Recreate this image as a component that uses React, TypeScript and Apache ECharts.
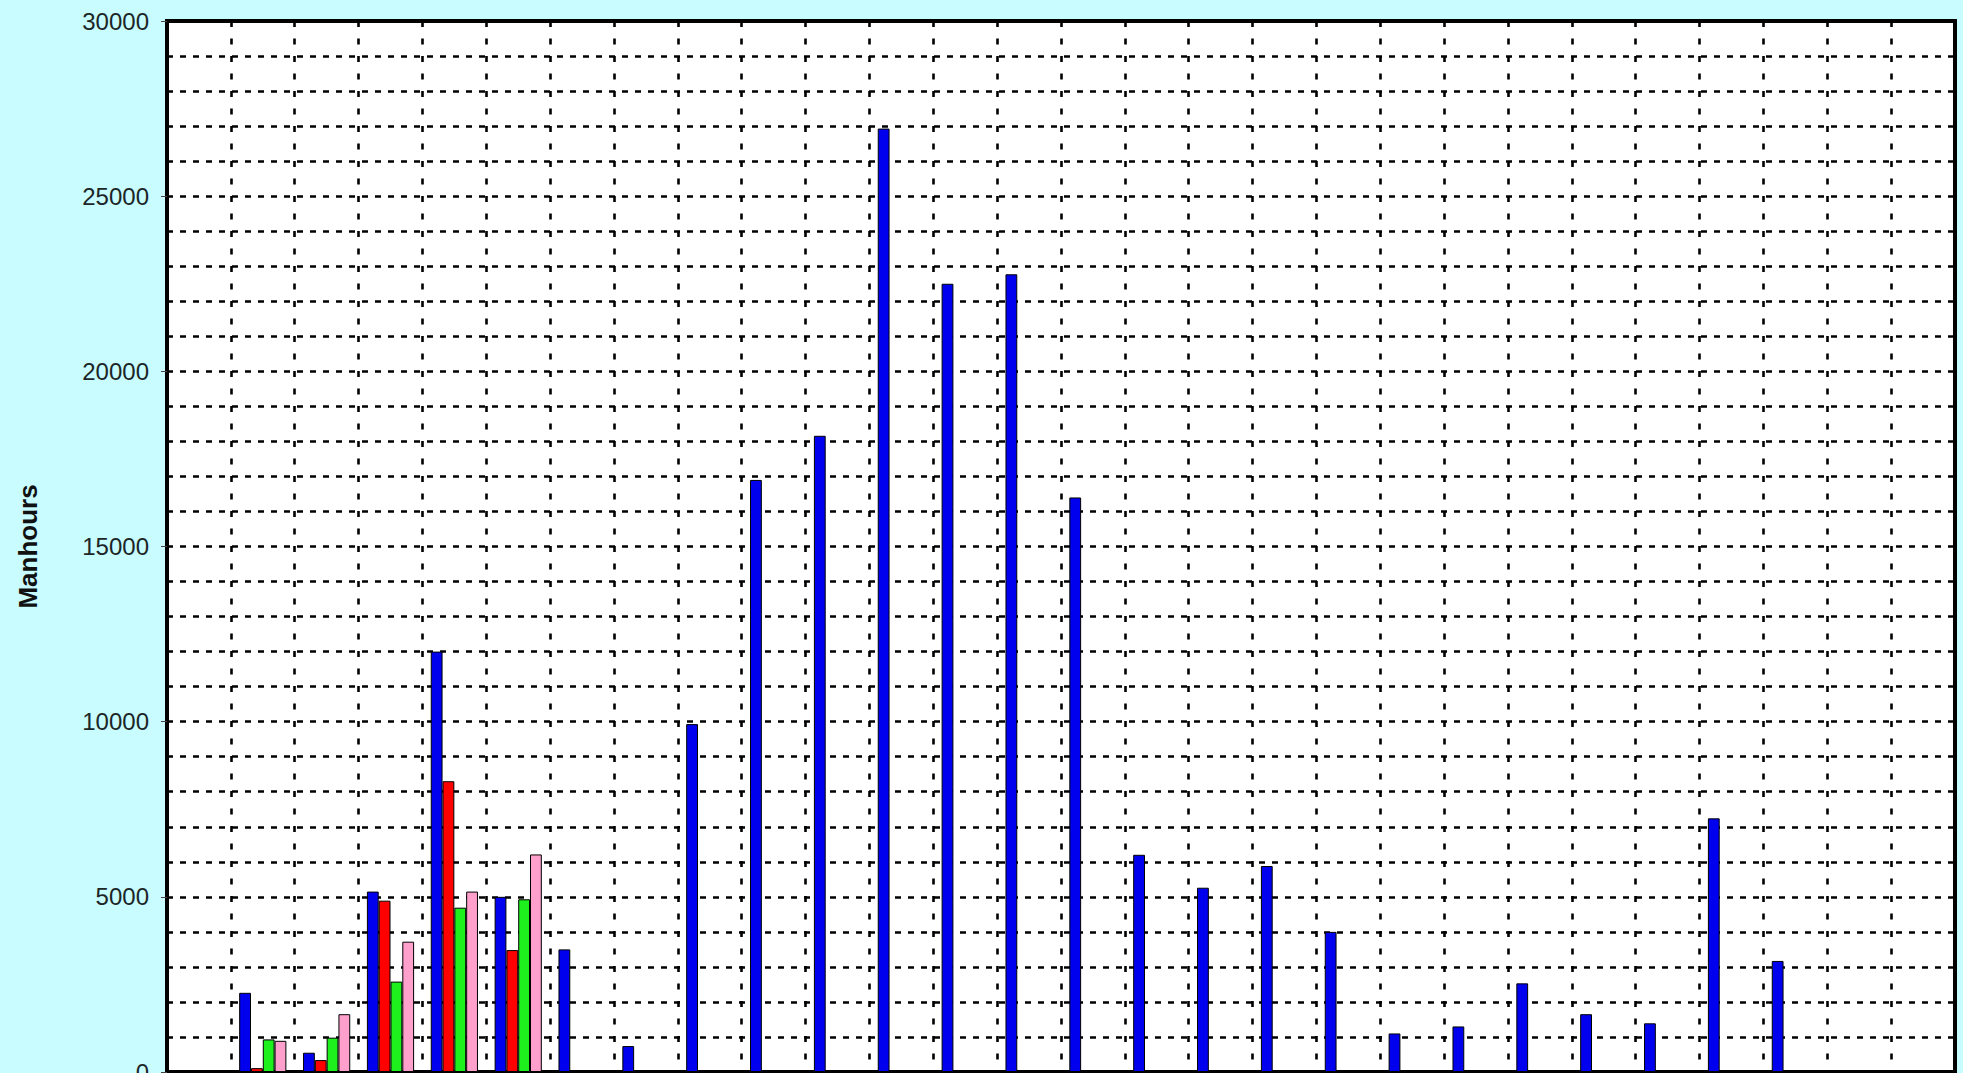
import React, { useEffect, useRef } from "react";
import * as echarts from "echarts";

// 28 categories (their labels lie below the visible area of the reference)
const categories: string[] = [
  "1", "2", "3", "4", "5", "6", "7", "8", "9", "10", "11", "12", "13", "14",
  "15", "16", "17", "18", "19", "20", "21", "22", "23", "24", "25", "26", "27", "28",
];

const blueValues: (number | null)[] = [
  null, 2260, 550, 5150, 12000, 5000, 3500, 740, 9930, 16900, 18160, 26930, 22500, 22770,
  16400, 6200, 5260, 5880, 4000, 1100, 1300, 2530, 1650, 1390, 7240, 3170, null, null,
];
const redValues: (number | null)[] = [
  null, 110, 340, 4890, 8300, 3480, null, null, null, null, null, null, null, null,
  null, null, null, null, null, null, null, null, null, null, null, null, null, null,
];
const greenValues: (number | null)[] = [
  null, 930, 980, 2580, 4690, 4930, null, null, null, null, null, null, null, null,
  null, null, null, null, null, null, null, null, null, null, null, null, null, null,
];
const pinkValues: (number | null)[] = [
  null, 890, 1650, 3720, 5150, 6210, null, null, null, null, null, null, null, null,
  null, null, null, null, null, null, null, null, null, null, null, null, null, null,
];

const yMin = 0;
const yMax = 30000;
const yInterval = 5000;
const yAxisName = "Manhours";

export default function App() {
  const ref = useRef<HTMLDivElement>(null);

  useEffect(() => {
    document.body.style.margin = "0";
    if (!ref.current) return;
    const chart = echarts.init(ref.current, null, { renderer: "svg" });
    const barStyle = (color: string) => ({
      color,
      borderColor: "#000",
      borderWidth: 1,
    });
    const mkSeries = (name: string, data: (number | null)[], color: string) => ({
      name,
      type: "bar",
      data,
      barWidth: 11.8,
      barGap: "0%",
      itemStyle: barStyle(color),
    });
    chart.setOption({
      animation: false,
      backgroundColor: "#C8FCFF",
      textStyle: { fontFamily: "Liberation Sans, Arial, sans-serif" },
      grid: {
        left: 167,
        right: 8,
        top: 21,
        bottom: 1,
        show: true,
        backgroundColor: "#ffffff",
        borderColor: "#000",
        borderWidth: 4,
        containLabel: false,
        outerBoundsMode: "none",
      },
      xAxis: {
        type: "category",
        data: categories,
        boundaryGap: true,
        axisLine: { show: true, lineStyle: { color: "#000", width: 3 } },
        axisTick: { show: false },
        axisLabel: { show: false },
        splitLine: {
          show: true,
          interval: 0,
          lineStyle: { color: "#000", width: 2.6, type: [6, 11.5] },
        },
      },
      yAxis: {
        type: "value",
        min: yMin,
        max: yMax,
        interval: yInterval,
        name: yAxisName,
        nameLocation: "middle",
        nameGap: 126,
        nameRotate: 90,
        nameTextStyle: {
          fontSize: 26,
          fontWeight: "bold",
          color: "#111",
          fontFamily: "Liberation Sans, Arial, sans-serif",
        },
        axisLine: { show: true, lineStyle: { color: "#000", width: 4 } },
        axisTick: { show: true, length: 6, lineStyle: { color: "#444", width: 1 } },
        axisLabel: {
          fontSize: 24,
          color: "#1c2626",
          margin: 18,
          fontFamily: "Liberation Sans, Arial, sans-serif",
          formatter: (v: number) => String(v),
        },
        splitLine: {
          show: true,
          lineStyle: { color: "#000", width: 2.6, type: [6, 7] },
        },
        minorTick: { show: false, splitNumber: 5 },
        minorSplitLine: {
          show: true,
          lineStyle: { color: "#000", width: 2.6, type: [6, 7] },
        },
      },
      series: [
        mkSeries("Series 1", blueValues, "#0000EE"),
        mkSeries("Series 2", redValues, "#FF0000"),
        mkSeries("Series 3", greenValues, "#1EF01E"),
        mkSeries("Series 4", pinkValues, "#FF9FCC"),
      ],
    });
    return () => chart.dispose();
  }, []);

  return (
    <div
      ref={ref}
      style={{ position: "absolute", left: 0, top: 0, width: 1963, height: 1073 }}
    />
  );
}
